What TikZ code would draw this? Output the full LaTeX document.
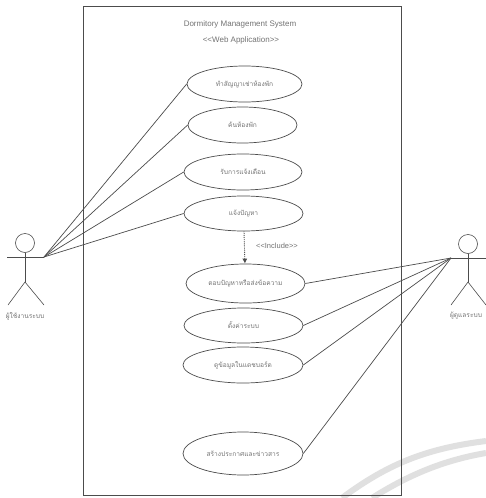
\documentclass[tikz,border=0pt]{standalone}
\usepackage{fontspec}
\setmainfont{Liberation Sans}
\newfontfamily\thaifont[Script=Thai]{Loma}
\usetikzlibrary{shapes.geometric,arrows.meta}
\definecolor{ink}{gray}{0.3}
\definecolor{soft}{gray}{0.45}
\definecolor{wm}{gray}{0.88}
\tikzset{
 x=1pt,y=-1pt,
 uc/.style 2 args={draw=ink,line width=0.7pt,ellipse,minimum width=#1,minimum height=#2,inner sep=0pt,text=soft,font=\thaifont\fontsize{6.6}{8}\selectfont},
 lnk/.style={draw=ink,line width=0.7pt},
 actorline/.style={draw=ink,line width=0.6pt},
 lbl/.style={text=soft,inner sep=0pt},
 wmark/.style={draw=wm,line width=6pt}
}
\begin{document}
\begin{tikzpicture}
\useasboundingbox (0,0) rectangle (486,498);
\fill[white] (0,0) rectangle (486,498);
\draw[wmark] (342,498) .. controls (390,462) and (430,448) .. (486,441);
\draw[wmark] (372,498) .. controls (410,474) and (445,460) .. (486,453);
\node[draw=ink,line width=0.7pt,minimum width=318pt,minimum height=489pt,inner sep=0pt] (frame) at (242,250.5) {};
\node[lbl,font=\fontsize{8}{10}\selectfont] (t1) at (240,24) {Dormitory Management System};
\node[lbl,font=\fontsize{8}{10}\selectfont] (t2) at (241,40) {<{}<Web Application>{}>};
\node[uc={115pt}{36pt}] (u1) at (244.5,84) {ทำสัญญาเช่าห้องพัก};
\node[uc={109pt}{36pt}] (u2) at (242.5,125) {ค้นห้องพัก};
\node[uc={118pt}{36pt}] (u3) at (243,172) {รับการแจ้งเตือน};
\node[uc={119pt}{35pt}] (u4) at (243.5,213.5) {แจ้งปัญหา};
\node[uc={119pt}{39pt}] (u5) at (245.5,283.5) {ตอบปัญหาหรือส่งข้อความ};
\node[uc={119pt}{35pt}] (u6) at (243.5,325.5) {ตั้งค่าระบบ};
\node[uc={120pt}{36pt}] (u7) at (243,365) {ดูข้อมูลในแดชบอร์ด};
\node[uc={120pt}{43pt}] (u8) at (243,453.5) {สร้างประกาศและข่าวสาร};
\node[lbl,font=\fontsize{7.5}{9}\selectfont] (inc) at (277,246) {<{}<Include>{}>};
% left actor
\node[draw=ink,line width=0.6pt,circle,minimum size=19pt,inner sep=0pt] (lhead) at (25,243) {};
\coordinate (la) at (44,257);
\coordinate (ls) at (7,257);
\coordinate (lh) at (25,282);
\coordinate (lf1) at (8,305);
\coordinate (lf2) at (44,305);
\draw[actorline] (lhead) -- (lh);
\draw[actorline] (ls) -- (la);
\draw[actorline] (lf1) -- (lh) -- (lf2);
\node[lbl,font=\thaifont\fontsize{6.6}{8}\selectfont] (lab1) at (25,316) {ผู้ใช้งานระบบ};
% right actor
\node[draw=ink,line width=0.6pt,circle,minimum size=19pt,inner sep=0pt] (rhead) at (468,244) {};
\coordinate (ra) at (451,258);
\coordinate (rs) at (486,258);
\coordinate (rh) at (468,282);
\coordinate (rf1) at (451,305);
\coordinate (rf2) at (486,305);
\draw[actorline] (rhead) -- (rh);
\draw[actorline] (ra) -- (rs);
\draw[actorline] (rf1) -- (rh) -- (rf2);
\node[lbl,font=\thaifont\fontsize{6.6}{8}\selectfont] (lab2) at (466,316) {ผู้ดูแลระบบ};
% links
\foreach \u in {u1,u2,u3,u4}{\draw[lnk] (la) -- (\u.west);}
\foreach \u in {u5,u6,u7,u8}{\draw[lnk] (ra) -- (\u.east);}
\draw[draw=ink,line width=0.9pt,densely dotted,-{Latex[length=5pt,width=5pt]}] (u4) -- (u5);
\end{tikzpicture}
\end{document}
